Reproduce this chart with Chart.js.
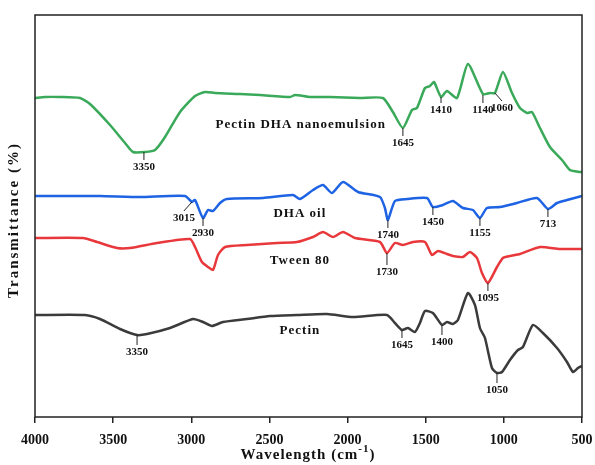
<!DOCTYPE html>
<html>
<head>
<meta charset="utf-8">
<script src="https://cdn.jsdelivr.net/npm/chart.js@4/dist/chart.umd.min.js"></script>
<style>
  html, body { margin: 0; padding: 0; background: #fff; }
  #wrap { width: 595px; height: 465px; }
</style>
</head>
<body>
<div id="wrap"><canvas id="ftir" width="595" height="465"></canvas></div>
<script>
// wavenumbers (cm-1) and transmittance (offset, arbitrary units)
var nanoWn = [4000, 3936, 3840, 3712, 3648, 3520, 3424, 3373, 3296, 3232, 3168, 3072, 2976, 2912, 2848, 2688, 2560, 2368, 2336, 2241, 2113, 1921, 1774, 1710, 1646, 1588, 1556, 1505, 1473, 1447, 1402, 1364, 1300, 1230, 1134, 1089, 1057, 1006, 948, 897, 852, 820, 769, 705, 628, 577, 513, 500];
var nanoT = [319, 320, 320, 319, 313, 292, 274, 265, 265, 267, 280, 305, 321, 325, 324, 323, 322, 320, 322, 320, 320, 319, 319, 305, 289, 307, 309, 329, 331, 335, 320, 326, 319, 353, 323, 324, 324, 345, 324, 309, 304, 305, 289, 270, 257, 247, 245, 245];

var dhaWn = [4000, 3840, 3584, 3328, 3040, 2996, 2976, 2925, 2893, 2861, 2816, 2772, 2541, 2349, 2305, 2221, 2157, 2100, 2029, 1933, 1793, 1761, 1742, 1697, 1620, 1492, 1454, 1390, 1326, 1262, 1198, 1153, 1108, 1025, 916, 788, 718, 660, 596, 500];
var dhaT = [221, 221, 221, 220, 221, 215, 217, 199, 207, 206, 214, 218, 219, 222, 218, 227, 232, 224, 235, 225, 220, 209, 197, 216, 218, 219, 210, 212, 216, 209, 207, 199, 209, 210, 214, 219, 208, 214, 217, 221];

var tweenWn = [4000, 3693, 3603, 3475, 3392, 3219, 3008, 2976, 2932, 2893, 2861, 2829, 2784, 2644, 2452, 2324, 2221, 2157, 2093, 2029, 1953, 1793, 1748, 1697, 1646, 1582, 1505, 1460, 1422, 1364, 1326, 1262, 1217, 1172, 1140, 1102, 1044, 1006, 961, 897, 769, 641, 500];
var tweenT = [179, 179, 175, 169, 169, 174, 178, 170, 155, 150, 147, 162, 170, 172, 174, 175, 180, 185, 180, 185, 179, 175, 164, 174, 172, 175, 175, 162, 166, 163, 161, 160, 165, 159, 144, 134, 150, 159, 161, 163, 170, 168, 168];

var pectinWn = [4000, 3680, 3584, 3456, 3347, 3283, 3136, 2989, 2925, 2868, 2797, 2644, 2496, 2324, 2132, 1965, 1748, 1697, 1652, 1614, 1569, 1537, 1505, 1454, 1396, 1364, 1326, 1294, 1230, 1185, 1153, 1121, 1076, 1044, 1012, 961, 910, 878, 814, 750, 660, 596, 558, 526, 500];
var pectinT = [102, 102, 98, 88, 82, 83, 89, 98, 95, 91, 95, 98, 101, 102, 103, 100, 102, 94, 87, 89, 85, 94, 106, 104, 92, 95, 93, 97, 124, 112, 89, 79, 49, 44, 45, 57, 67, 70, 92, 84, 69, 55, 45, 49, 51];

var xTicks = [4000, 3500, 3000, 2500, 2000, 1500, 1000, 500];

// band labels: [wavenumber, transmittance at the band, text, tick length, tick slant]
var bandLabels = [
  [3303, 265, '3350', 8, 0], [1646, 289, '1645', 8, 0], [1402, 320, '1410', 6, 0],
  [1134, 322, '1140', 8, 0], [1057, 324, '1060', 8, 7],
  [2996, 215, '3015', 9, -8], [2925, 199, '2930', 8, 0], [1742, 197, '1740', 8, 0],
  [1454, 210, '1450', 8, 0], [1153, 199, '1155', 8, 0], [718, 208, '713', 8, 0],
  [1748, 164, '1730', 12, 0], [1102, 134, '1095', 8, 0],
  [3347, 82, '3350', 10, 0], [1652, 87, '1645', 8, 0], [1396, 92, '1400', 10, 0],
  [1044, 44, '1050', 10, 0]
];

// sample names: [wavenumber, transmittance, text]
var sampleNames = [
  [2300, 292, 'Pectin DHA nanoemulsion'],
  [2305, 203, 'DHA oil'],
  [2305, 156, 'Tween 80'],
  [2305, 86, 'Pectin']
];

function pairs(wn, t) {
  return wn.map(function (w, i) { return { x: w, y: t[i] }; });
}

var serif = '"Liberation Serif", "Times New Roman", serif';

var ftirText = {
  id: 'ftirText',
  afterDraw: function (chart) {
    var ctx = chart.ctx;
    var xs = chart.scales.x, ys = chart.scales.y;
    var a = chart.chartArea;
    ctx.save();

    // frame
    ctx.strokeStyle = '#222';
    ctx.lineWidth = 1.5;
    ctx.strokeRect(a.left, a.top, a.right - a.left, a.bottom - a.top);

    // band ticks and labels
    ctx.fillStyle = '#111';
    ctx.strokeStyle = '#222';
    ctx.lineWidth = 1;
    ctx.font = 'bold 11px ' + serif;
    ctx.textAlign = 'center';
    ctx.textBaseline = 'middle';
    bandLabels.forEach(function (b) {
      var x0 = xs.getPixelForValue(b[0]);
      var y0 = ys.getPixelForValue(b[1]);
      var x1 = x0 + b[4], y1 = y0 + b[3];
      ctx.beginPath();
      ctx.moveTo(x0, y0);
      ctx.lineTo(x1, y1);
      ctx.stroke();
      ctx.fillText(b[2], x1, y1 + 7);
    });

    // sample names
    ctx.font = 'bold 13px ' + serif;
    ctx.letterSpacing = '1px';
    sampleNames.forEach(function (s) {
      ctx.fillText(s[2], xs.getPixelForValue(s[0]), ys.getPixelForValue(s[1]));
    });

    // x axis title with superscript
    var main = 'Wavelength (cm';
    ctx.font = 'bold 15px ' + serif;
    var w1 = ctx.measureText(main).width;
    ctx.font = 'bold 11px ' + serif;
    var w2 = ctx.measureText('-1').width;
    ctx.font = 'bold 15px ' + serif;
    var w3 = ctx.measureText(')').width;
    var cx = 308;
    var sx = cx - (w1 + w2 + w3) / 2;
    var ty = 455;
    ctx.textAlign = 'left';
    ctx.fillText(main, sx, ty);
    ctx.font = 'bold 11px ' + serif;
    ctx.fillText('-1', sx + w1, ty - 6);
    ctx.font = 'bold 15px ' + serif;
    ctx.fillText(')', sx + w1 + w2, ty);

    // y axis title
    ctx.letterSpacing = '2px';
    ctx.translate(14, 220);
    ctx.rotate(-Math.PI / 2);
    ctx.textAlign = 'center';
    ctx.fillText('Transmittance (%)', 0, 0);
    ctx.restore();
  }
};

var lineStyle = { borderWidth: 2.5, pointRadius: 0, tension: 0.2, fill: false };

new Chart(document.getElementById('ftir').getContext('2d'), {
  type: 'line',
  data: {
    datasets: [
      Object.assign({ label: 'Pectin DHA nanoemulsion', data: pairs(nanoWn, nanoT), borderColor: '#3aa95a' }, lineStyle),
      Object.assign({ label: 'DHA oil', data: pairs(dhaWn, dhaT), borderColor: '#1d63e3' }, lineStyle),
      Object.assign({ label: 'Tween 80', data: pairs(tweenWn, tweenT), borderColor: '#e8383b' }, lineStyle),
      Object.assign({ label: 'Pectin', data: pairs(pectinWn, pectinT), borderColor: '#3b3b3b' }, lineStyle)
    ]
  },
  options: {
    responsive: false,
    animation: false,
    layout: { padding: { top: 15, right: 13, left: 0, bottom: 0 } },
    plugins: { legend: { display: false }, tooltip: { enabled: false } },
    scales: {
      x: {
        type: 'linear',
        min: 500,
        max: 4000,
        reverse: true,
        afterBuildTicks: function (s) { s.ticks = xTicks.map(function (v) { return { value: v }; }); },
        afterFit: function (s) { s.height = 48; s.paddingLeft = 0; s.paddingRight = 0; },
        grid: { drawOnChartArea: false, drawTicks: true, tickLength: 6, color: '#222', lineWidth: 1.5 },
        border: { display: false },
        ticks: {
          padding: 9, color: '#111', maxRotation: 0, autoSkip: false,
          font: { family: serif, size: 14, weight: 'bold' },
          callback: function (v) { return String(v); }
        }
      },
      y: {
        min: 0,
        max: 402,
        afterFit: function (s) { s.width = 35; },
        grid: { display: false },
        border: { display: false },
        ticks: { display: false }
      }
    }
  },
  plugins: [ftirText]
});
</script>
</body>
</html>
